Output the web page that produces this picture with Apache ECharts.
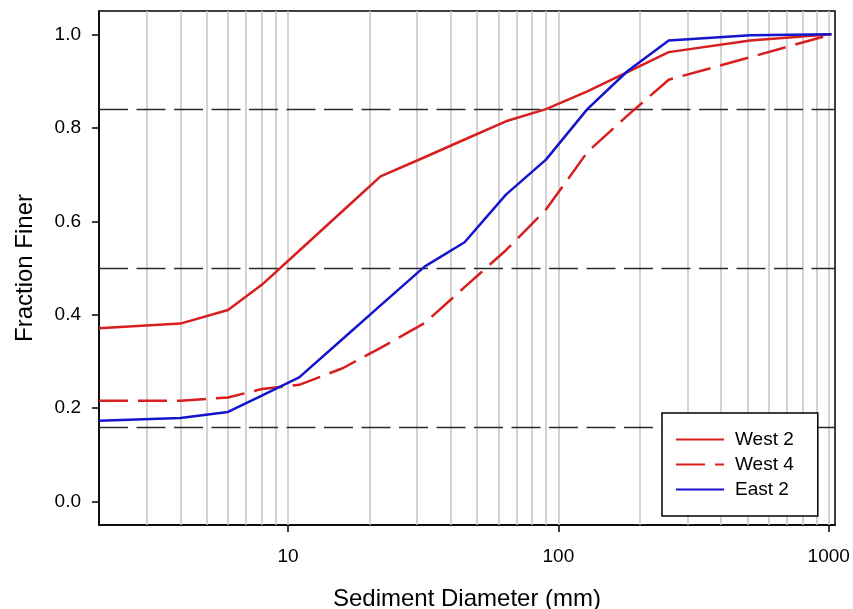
<!DOCTYPE html>
<html lang="en">
<head>
    <meta charset="UTF-8">
    <title>Grain size distribution</title>
    <script src="https://cdn.jsdelivr.net/npm/echarts@6/dist/echarts.min.js"></script>
    <style>
        html, body { margin: 0; padding: 0; background: #fff; }
        #main { width: 853px; height: 609px; }
    </style>
</head>
<body>
<div id="main"></div>
<script type="text/javascript">
    // sieve sizes (mm) and fraction finer for each site
    var sizes = [2, 4, 6, 8, 11, 16, 22, 32, 45, 64, 90, 128, 180, 256, 512, 1024];
    var west2 = [0.371, 0.381, 0.410, 0.464, 0.537, 0.623, 0.696, 0.737, 0.775, 0.814, 0.840, 0.878, 0.919, 0.962, 0.987, 1.0];
    var west4 = [0.216, 0.216, 0.223, 0.241, 0.250, 0.286, 0.329, 0.382, 0.459, 0.538, 0.625, 0.748, 0.826, 0.903, 0.951, 1.0];
    var east2 = [0.173, 0.179, 0.192, 0.227, 0.266, 0.349, 0.420, 0.503, 0.555, 0.657, 0.732, 0.840, 0.921, 0.987, 0.998, 1.0];

    // D16 / D50 / D84 reference levels
    var refLevels = [0.16, 0.5, 0.84];
    // light vertical log grid
    var gridDiameters = [3, 4, 5, 6, 7, 8, 9, 10, 20, 30, 40, 50, 60, 70, 80, 90, 100,
        200, 300, 400, 500, 600, 700, 800, 900, 1000];
    var xTicks = [10, 100, 1000];
    var yTicks = [0, 0.2, 0.4, 0.6, 0.8, 1.0];

    var RED = '#d81e1e';
    var BLUE = '#1414cc';
    var FONT = 'Liberation Sans';

    function pairs(vals) {
        return sizes.map(function (d, i) { return [d, vals[i]]; });
    }

    var marks = [];
    gridDiameters.forEach(function (d) {
        marks.push({xAxis: d, lineStyle: {color: '#c4c4c4', width: 1.5, type: 'solid'}});
    });
    refLevels.forEach(function (v) {
        marks.push({yAxis: v, lineStyle: {color: '#2a2a2a', width: 1.3, type: [29, 8.5]}});
    });

    var chart = echarts.init(document.getElementById('main'));
    var option = {
        animation: false,
        textStyle: {fontFamily: FONT, color: '#000'},
        grid: {
            left: 99, top: 11, right: 18, bottom: 84,
            outerBoundsMode: 'none',
            containLabel: false,
            show: true, borderColor: '#000', borderWidth: 1.5
        },
        legend: {
            data: ['West 2', 'West 4', 'East 2'],
            orient: 'vertical',
            left: 662, top: 413,
            padding: [17, 24, 17, 13],
            itemWidth: 48, itemHeight: 14, itemGap: 6,
            borderColor: '#000', borderWidth: 1.5,
            backgroundColor: '#fff',
            itemStyle: {color: 'transparent', opacity: 0, borderWidth: 0},
            textStyle: {fontSize: 19, color: '#000', fontFamily: FONT, padding: [0, 0, 0, 6]}
        },
        xAxis: {
            type: 'log',
            min: 2, max: 1055,
            name: 'Sediment Diameter (mm)',
            nameLocation: 'middle',
            nameGap: 62,
            nameTextStyle: {fontSize: 24, color: '#000', fontFamily: FONT},
            axisLine: {onZero: false, lineStyle: {color: '#000', width: 1.5}},
            axisTick: {show: true, length: 7, lineStyle: {color: '#000', width: 1.5}, customValues: xTicks},
            axisLabel: {fontSize: 19, color: '#000', margin: 22, customValues: xTicks,
                formatter: function (v) { return String(Math.round(v)); }},
            splitLine: {show: false},
            minorSplitLine: {show: false}
        },
        yAxis: {
            type: 'value',
            min: -0.05, max: 1.05,
            name: 'Fraction Finer',
            nameLocation: 'middle',
            nameGap: 62,
            nameTextStyle: {fontSize: 24, color: '#000', fontFamily: FONT},
            axisLine: {show: true, onZero: false, lineStyle: {color: '#000', width: 1.5}},
            axisTick: {show: true, length: 7, lineStyle: {color: '#000', width: 1.5}, customValues: yTicks},
            axisLabel: {fontSize: 19, color: '#000', margin: 18, customValues: yTicks,
                formatter: function (v) { return v.toFixed(1); }},
            splitLine: {show: false}
        },
        series: [
            {
                name: 'guides',
                type: 'line',
                data: [],
                markLine: {
                    silent: true,
                    z: 1,
                    symbol: ['none', 'none'],
                    label: {show: false},
                    emphasis: {disabled: true},
                    data: marks
                }
            },
            {
                name: 'West 2', type: 'line', data: pairs(west2), symbol: 'none', z: 3,
                color: RED, lineStyle: {color: RED, width: 2.5}
            },
            {
                name: 'West 4', type: 'line', data: pairs(west4), symbol: 'none', z: 3,
                color: RED, lineStyle: {color: RED, width: 2.5, type: [29, 10]}
            },
            {
                name: 'East 2', type: 'line', data: pairs(east2), symbol: 'none', z: 3,
                color: BLUE, lineStyle: {color: BLUE, width: 2.5}
            }
        ]
    };
    chart.setOption(option);
</script>
</body>
</html>
